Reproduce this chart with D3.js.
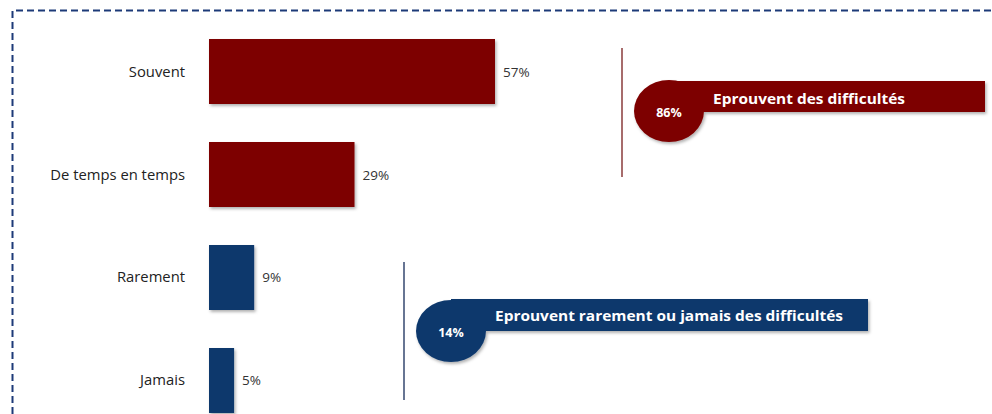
<!DOCTYPE html>
<html>
<head>
<meta charset="utf-8">
<script src="https://cdn.jsdelivr.net/npm/d3@7"></script>
<style>
  body { margin: 0; background: #fff; }
  svg { display: block; font-family: "Open Sans", Lato, sans-serif; }
</style>
</head>
<body>
<svg width="992" height="414"></svg>
<script>
// data
var categories = ["Souvent", "De temps en temps", "Rarement", "Jamais"];
var values = [57, 29, 9, 5];
var groupOf = [0, 0, 1, 1];
var groupLabels = ["Eprouvent des difficultés", "Eprouvent rarement ou jamais des difficultés"];
var groupValues = [86, 14];
var groupColors = ["#7d0000", "#0c386c"];
var lineColors = ["#8a3b3b", "#34476f"];

var svg = d3.select("svg");
var width = +svg.attr("width"), height = +svg.attr("height");

// drop shadow for bars and callouts
var defs = svg.append("defs");
var f = defs.append("filter").attr("id", "shadow").attr("x", "-10%").attr("y", "-10%").attr("width", "130%").attr("height", "140%");
f.append("feDropShadow").attr("dx", 1.5).attr("dy", 2).attr("stdDeviation", 1.5).attr("flood-color", "#000").attr("flood-opacity", 0.3);

// dashed frame (top and left edges only visible)
svg.append("path")
  .attr("d", "M12.5," + height + "V10.5H" + width)
  .attr("fill", "none")
  .attr("stroke", "#1d3a78")
  .attr("stroke-width", 2)
  .attr("stroke-dasharray", "7,4");

var x = d3.scaleLinear().domain([0, 57]).range([209, 495]);
var y = d3.scaleBand().domain(categories).range([1, 451]).padding(0.369);

var bars = svg.append("g");
bars.selectAll("rect").data(categories).enter().append("rect")
  .attr("x", x(0))
  .attr("y", d => y(d))
  .attr("width", (d, i) => x(values[i]) - x(0))
  .attr("height", y.bandwidth())
  .attr("fill", (d, i) => groupColors[groupOf[i]])
  .attr("filter", "url(#shadow)");

// category labels
bars.selectAll("text.cat").data(categories).enter().append("text")
  .attr("class", "cat")
  .attr("x", 185)
  .attr("y", d => y(d) + y.bandwidth() / 2 + 5)
  .attr("text-anchor", "end")
  .attr("font-size", 14.8)
  .attr("fill", "#222")
  .text(d => d);

// value labels
bars.selectAll("text.val").data(categories).enter().append("text")
  .attr("class", "val")
  .attr("x", (d, i) => x(values[i]) + 8)
  .attr("y", d => y(d) + y.bandwidth() / 2 + 5)
  .attr("font-size", 13.5)
  .attr("fill", "#333")
  .text((d, i) => values[i] + "%");

// callouts: vertical line + bubble + banner
var callouts = [
  {line: [622, 48, 177], cx: 669, cy: 111, bx1: 985, by0: 81, by1: 112, tx: 713, ty: 104, tw: 192},
  {line: [404, 262, 400], cx: 451, cy: 331, bx1: 868, by0: 299, by1: 331, tx: 495, ty: 321, tw: 348}
];

callouts.forEach(function(c, g) {
  var gr = svg.append("g");
  gr.append("line")
    .attr("x1", c.line[0]).attr("x2", c.line[0])
    .attr("y1", c.line[1]).attr("y2", c.line[2])
    .attr("stroke", lineColors[g]).attr("stroke-width", 1.5);
  var sh = gr.append("g").attr("filter", "url(#shadow)");
  sh.append("ellipse")
    .attr("cx", c.cx).attr("cy", c.cy).attr("rx", 35).attr("ry", 31)
    .attr("fill", groupColors[g]);
  sh.append("rect")
    .attr("x", c.cx).attr("y", c.by0)
    .attr("width", c.bx1 - c.cx).attr("height", c.by1 - c.by0)
    .attr("fill", groupColors[g]);
  gr.append("text")
    .attr("x", c.cx).attr("y", c.cy + 6)
    .attr("text-anchor", "middle")
    .attr("font-size", 12.5).attr("font-weight", "bold")
    .attr("fill", "#fff")
    .text(groupValues[g] + "%");
  gr.append("text")
    .attr("x", c.tx).attr("y", c.ty)
    .attr("font-size", 15).attr("font-weight", "bold")
    .attr("fill", "#fff")
    .attr("textLength", c.tw).attr("lengthAdjust", "spacingAndGlyphs")
    .text(groupLabels[g]);
});
</script>
</body>
</html>
